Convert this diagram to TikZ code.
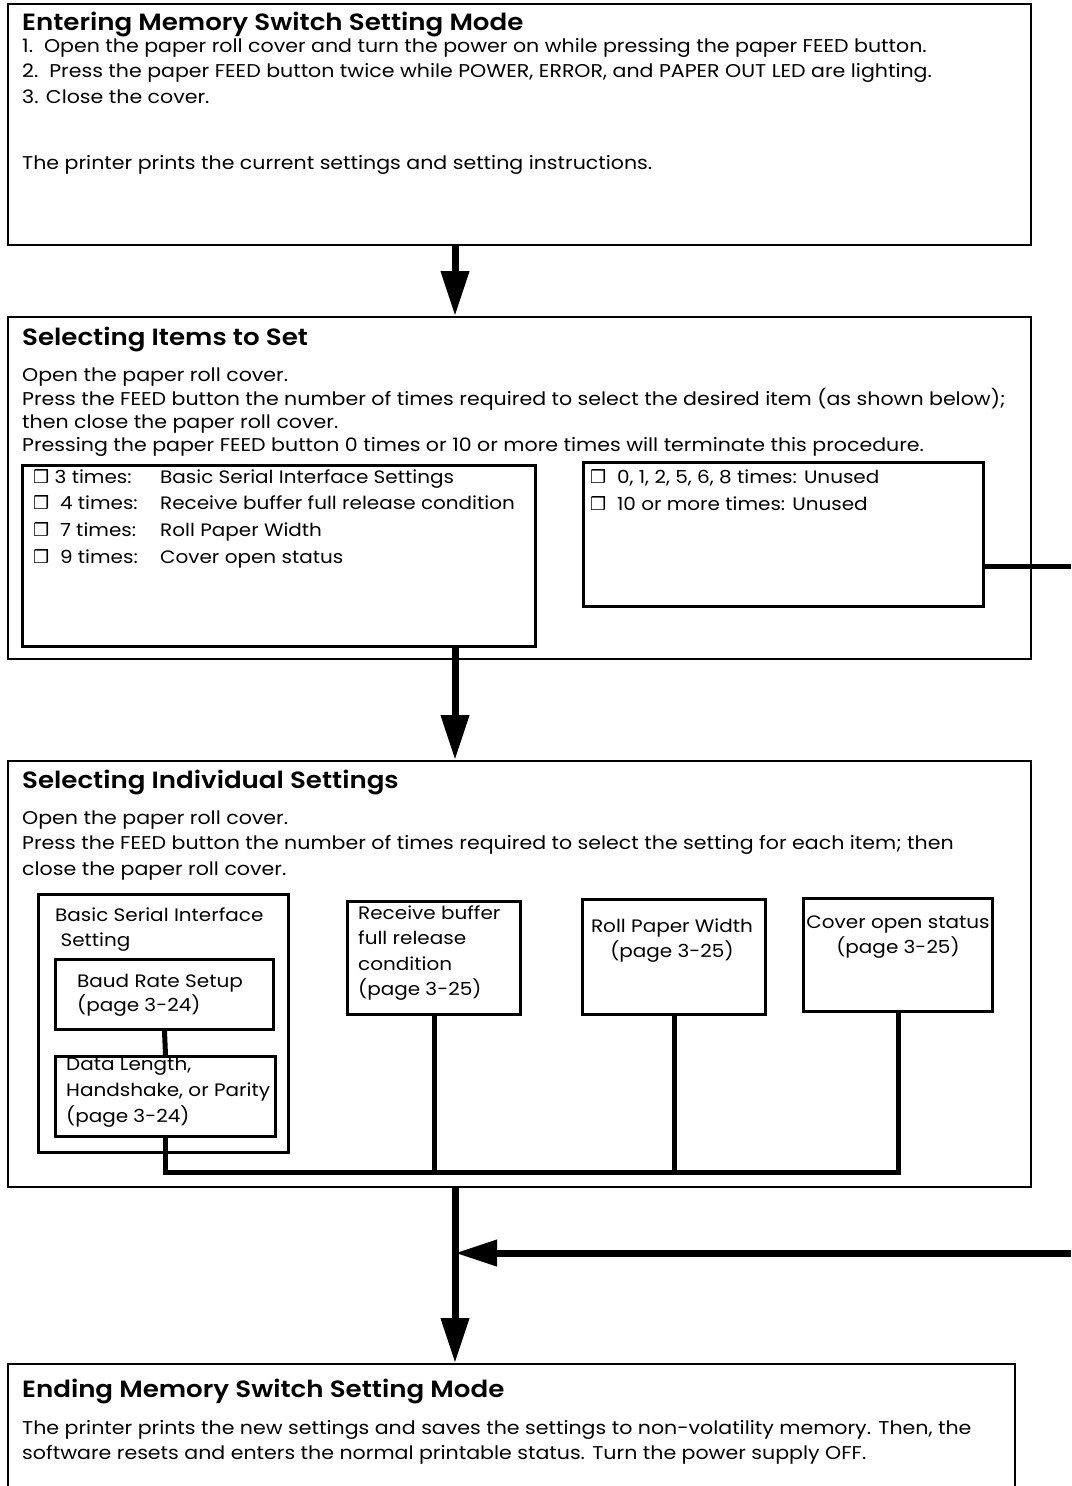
\documentclass[tikz,border=0pt]{standalone}
\usepackage{fontspec}
\setmainfont{Poppins}[FakeStretch=1.11, BoldFont={Poppins SemiBold}]
\newfontfamily\symfont{DejaVu Sans}
\usepackage{tikz}
\usetikzlibrary{arrows.meta}

\newcommand{\cbox}{{\symfont\char"2752}}
\newcommand{\rows}[1]{\begin{tabular}[t]{@{}l@{}}#1\end{tabular}}
\newcommand{\crows}[1]{\begin{tabular}[t]{@{}c@{}}#1\end{tabular}}

\begin{document}
\begin{tikzpicture}[x=1pt, y=-1pt,
  frame/.style={draw, line width=2pt, inner sep=0pt, anchor=north west},
  subframe/.style={draw, line width=3pt, inner sep=0pt, anchor=north west},
  title/.style={anchor=base west, inner sep=0pt, font=\fontsize{23.5}{26}\selectfont\bfseries},
  body/.style={anchor=base west, inner sep=0pt, font=\fontsize{18.5}{25.5}\selectfont},
  small/.style={anchor=base west, inner sep=0pt, font=\fontsize{18}{25.5}\selectfont},
  link/.style={line width=5pt},
  flow/.style={line width=7pt, -{Triangle[length=45pt, width=27pt]}}]
\useasboundingbox (0,0) rectangle (1071,1486);
\coordinate (spine) at (455,0);
\coordinate (loop) at (1071,566);
\coordinate (back) at (1071,1253);
\coordinate (bus) at (0,1172);

\node[frame, minimum width=1023pt, minimum height=241pt] (enter) at (7,3) {};
\node[frame, minimum width=1023pt, minimum height=342pt] (items) at (7,316) {};
\node[frame, minimum width=1023pt, minimum height=426pt] (setting) at (7,760) {};
\node[frame, minimum width=1007pt, minimum height=140pt] (ending) at (7,1363) {};

\node[title] (entert) at (22,30) {Entering Memory Switch Setting Mode};
\node[body] (enterb) at (22,52) {\rows{1.\ \ Open the paper roll cover and turn the power on while pressing the paper FEED button.\\
2.\ \ Press the paper FEED button twice while POWER, ERROR, and PAPER OUT LED are lighting.\\
3. Close the cover.\\[41pt]
The printer prints the current settings and setting instructions.}};

\node[title] (itemst) at (22,345) {Selecting Items to Set};
\node[body, font=\fontsize{18.5}{23}\selectfont] (itemsb) at (22,381) {\rows{Open the paper roll cover.\\
Press the FEED button the number of times required to select the desired item (as shown below);\\
then close the paper roll cover.\\
Pressing the paper FEED button 0 times or 10 or more times will terminate this procedure.}};

\node[subframe, minimum width=513pt, minimum height=181pt] (times) at (21,464) {};
\node[small, font=\fontsize{18}{26.7}\selectfont] (timest) at (33,483) {\rows{\makebox[127pt][l]{\cbox\ 3 times:}Basic Serial Interface Settings\\
\makebox[127pt][l]{\cbox\ \ 4 times:}Receive buffer full release condition\\
\makebox[127pt][l]{\cbox\ \ 7 times:}Roll Paper Width\\
\makebox[127pt][l]{\cbox\ \ 9 times:}Cover open status}};

\node[subframe, minimum width=400pt, minimum height=144pt] (unused) at (582,461) {};
\node[small, font=\fontsize{18}{27}\selectfont] (unusedt) at (590,483) {\rows{\cbox\ \ 0, 1, 2, 5, 6, 8 times: Unused\\
\cbox\ \ 10 or more times: Unused}};

\node[title] (settingt) at (22,788) {Selecting Individual Settings};
\node[body] (settingb) at (22,824) {\rows{Open the paper roll cover.\\
Press the FEED button the number of times required to select the setting for each item; then\\
close the paper roll cover.}};

\node[subframe, minimum width=250pt, minimum height=258pt] (serial) at (37,893) {};
\node[small] (serialt) at (55,921) {\rows{Basic Serial Interface\\ \ Setting}};
\node[subframe, minimum width=218pt, minimum height=70pt] (baud) at (54,958) {};
\node[small, font=\fontsize{18}{24}\selectfont] (baudt) at (77,987) {\rows{Baud Rate Setup\\(page 3-24)}};
\node[subframe, minimum width=220pt, minimum height=80pt] (data) at (54,1055) {};
\node[small, font=\fontsize{18}{26}\selectfont] (datat) at (66,1070) {\rows{Data Length,\\Handshake, or Parity\\(page 3-24)}};

\node[subframe, minimum width=173pt, minimum height=113pt] (recv) at (346,900) {};
\node[small] (recvt) at (358,919) {\rows{Receive buffer\\full release\\condition\\(page 3-25)}};
\node[subframe, minimum width=183pt, minimum height=115pt] (roll) at (581,898) {};
\node[small, anchor=base] (rollt) at (672,932) {\crows{Roll Paper Width\\(page 3-25)}};
\node[subframe, minimum width=189pt, minimum height=113pt] (cover) at (802,897) {};
\node[small, anchor=base] (covert) at (898,928) {\crows{Cover open status\\(page 3-25)}};

\node[title] (endingt) at (22,1397) {Ending Memory Switch Setting Mode};
\node[body] (endingb) at (22,1434) {\rows{The printer prints the new settings and saves the settings to non-volatility memory. Then, the\\
software resets and enters the normal printable status. Turn the power supply OFF.}};

\draw[link] (baud.south) -- (data.north);
\draw[link] (data.south) -- (data.south |- bus) -- (cover.south |- bus) -- (cover.south);
\draw[link] (recv.south) -- (recv.south |- bus);
\draw[link] (roll.south) -- (roll.south |- bus);
\draw[link] (unused.east |- loop) -- (loop);

\draw[flow] (enter.south -| spine) -- (items.north -| spine);
\draw[flow] (times.south -| spine) -- (setting.north -| spine);
\draw[flow] (setting.south -| spine) -- (ending.north -| spine);
\draw[flow, -{Triangle[length=42pt, width=25pt]}] (back) -- (back -| spine);
\end{tikzpicture}
\end{document}
